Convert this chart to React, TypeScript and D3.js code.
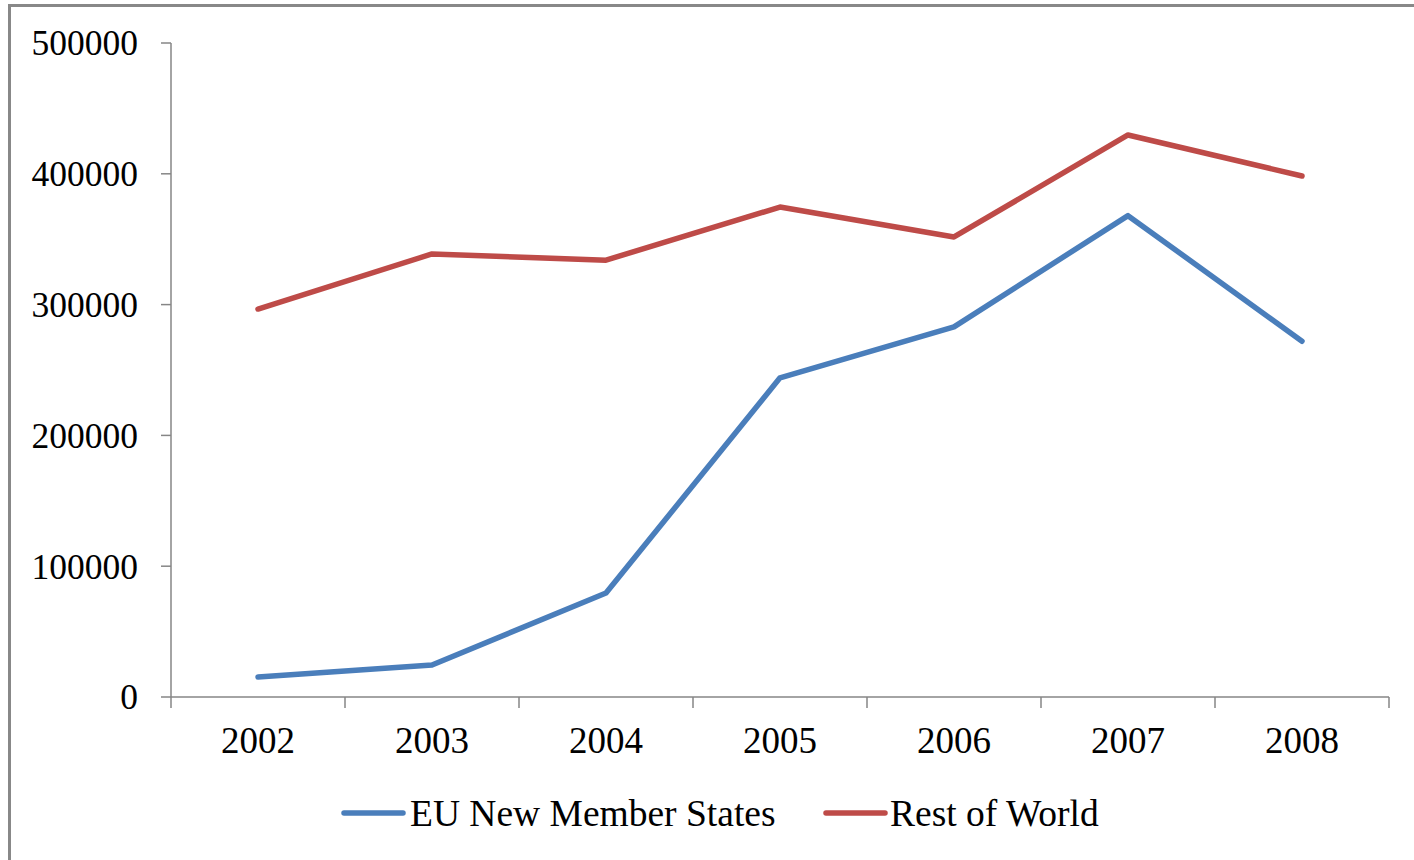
import React from "react";
import * as d3 from "d3";

const years = ["2002", "2003", "2004", "2005", "2006", "2007", "2008"];
const euNewMemberStates = [15300, 24500, 79500, 244000, 283000, 368000, 272000];
const restOfWorld = [296600, 338700, 334000, 374600, 351700, 429700, 398300];
const yTicks = [0, 100000, 200000, 300000, 400000, 500000];
const seriesNames = ["EU New Member States", "Rest of World"];
const seriesColors = ["#4a7ebb", "#be4b48"];

export default function App() {
  const W = 1414, H = 860;
  const left = 171, right = 1389, top = 43, bottom = 697;
  const x = d3.scaleBand<string>().domain(years).range([left, right]);
  const y = d3.scaleLinear().domain([0, 500000]).range([bottom, top]);
  const line = d3
    .line<number>()
    .x((_, i) => (x(years[i]) as number) + x.bandwidth() / 2)
    .y((d) => y(d));
  const series = [euNewMemberStates, restOfWorld];
  const axisColor = "#868686";
  const font = "'Liberation Serif', 'Times New Roman', serif";
  const legendItems = [
    { lx: 344, tx: 410 },
    { lx: 826, tx: 890 },
  ];
  return (
    <svg
      width={W}
      height={H}
      style={{ position: "absolute", left: 0, top: 0, background: "#fff" }}
      fontFamily={font}
    >
      <rect x={0} y={0} width={W} height={H} fill="#fff" />
      <line x1={9.5} y1={5.5} x2={9.5} y2={H} stroke="#888" strokeWidth={3} />
      <line x1={8} y1={5.5} x2={W} y2={5.5} stroke="#888" strokeWidth={3} />
      {/* y axis */}
      <line x1={left} y1={top} x2={left} y2={bottom} stroke={axisColor} strokeWidth={1.5} />
      {yTicks.map((t) => (
        <g key={t}>
          <line x1={left - 10} x2={left} y1={y(t)} y2={y(t)} stroke={axisColor} strokeWidth={1.5} />
          <text x={left - 33} y={y(t)} dy="0.35em" textAnchor="end" fontSize={35.5} fill="#000">
            {t}
          </text>
        </g>
      ))}
      {/* x axis */}
      <line x1={left} y1={bottom} x2={right} y2={bottom} stroke={axisColor} strokeWidth={1.5} />
      {[...years.map((yr) => x(yr) as number), right].map((p, i) => (
        <line key={i} x1={p} x2={p} y1={bottom} y2={bottom + 11} stroke={axisColor} strokeWidth={1.5} />
      ))}
      {years.map((yr) => (
        <text
          key={yr}
          x={(x(yr) as number) + x.bandwidth() / 2}
          y={bottom + 56}
          textAnchor="middle"
          fontSize={37}
          fill="#000"
        >
          {yr}
        </text>
      ))}
      {series.map((s, i) => (
        <path
          key={i}
          d={line(s) || ""}
          fill="none"
          stroke={seriesColors[i]}
          strokeWidth={5.5}
          strokeLinecap="round"
          strokeLinejoin="round"
        />
      ))}
      {seriesNames.map((n, i) => (
        <g key={n}>
          <line
            x1={legendItems[i].lx}
            x2={legendItems[i].lx + 59}
            y1={813}
            y2={813}
            stroke={seriesColors[i]}
            strokeWidth={5.5}
            strokeLinecap="round"
          />
          <text x={legendItems[i].tx} y={826} fontSize={37.5} fill="#000">
            {n}
          </text>
        </g>
      ))}
    </svg>
  );
}
